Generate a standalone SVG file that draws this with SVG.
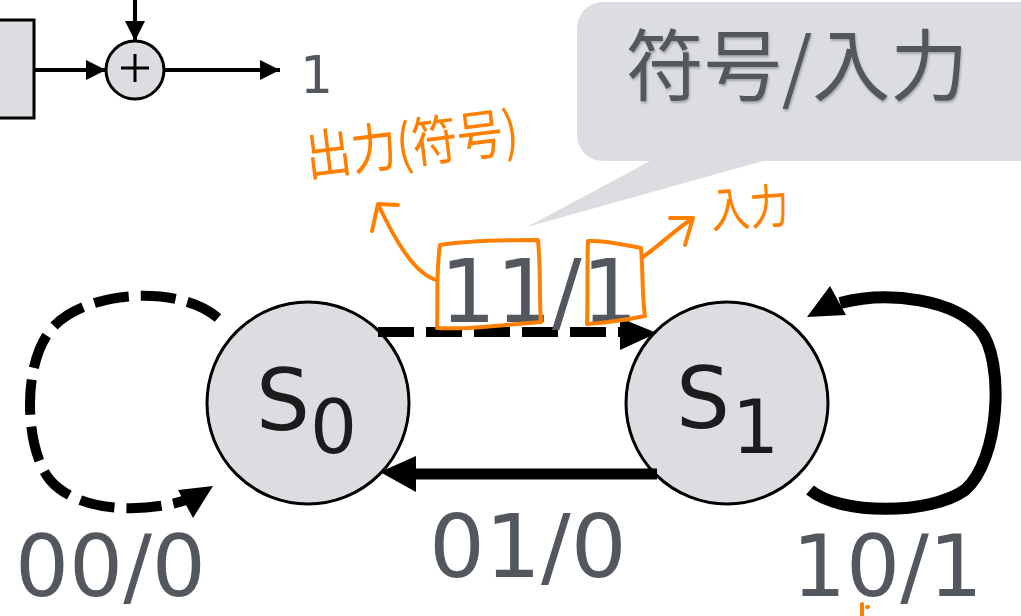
<svg xmlns="http://www.w3.org/2000/svg" width="1021" height="616" viewBox="0 0 1021 616">
  <style>
    .blk { fill: none; stroke: #000; }
    .shape { fill: #dcdde0; stroke: #000; stroke-width: 3; }
    .lbl { font-family: "DejaVu Sans", Verdana, sans-serif; fill: #53585f; }
    .state { font-family: "DejaVu Sans", Verdana, sans-serif; fill: #1c1c1e; }
    .ink { fill: none; stroke: #ff8000; stroke-width: 4; stroke-linecap: round; stroke-linejoin: round; }
    .hand { font-family: "Noto Sans CJK JP", "Noto Sans CJK SC", sans-serif; fill: #ff8000; }
  </style>
  <defs>
    <marker id="headSmall" markerUnits="userSpaceOnUse" markerWidth="22" markerHeight="20" refX="20" refY="10" orient="auto">
      <path d="M0,0 L20,10 L0,20 Z" fill="#000"/>
    </marker>
    <filter id="soft" x="-10%" y="-10%" width="120%" height="130%">
      <feDropShadow dx="1" dy="2" stdDeviation="1.2" flood-color="#000" flood-opacity="0.25"/>
    </filter>
  </defs>

  <!-- adder stage at top left -->
  <g id="register">
    <rect class="shape" x="-4" y="20" width="38" height="98"/>
  </g>
  <g id="adder">
    <circle class="shape" cx="135" cy="70" r="29"/>
    <path d="M121,68 H149 M135,54 V82" stroke="#000" stroke-width="3" fill="none"/>
  </g>
  <g id="out-label">
    <text class="lbl" x="300" y="93" font-size="52">1</text>
  </g>

  <!-- callout bubble -->
  <g id="callout">
    <path d="M603,2 H1040 V161 H763 L527,227 L650,161 H603 A26,26 0 0 1 577,135 V28 A26,26 0 0 1 603,2 Z" fill="#dcdde0"/>
    <text x="797" y="95" font-size="78" text-anchor="middle" filter="url(#soft)" font-family="'Noto Sans CJK JP', 'Noto Sans CJK SC', sans-serif" fill="#53585f">符号/入力</text>
  </g>

  <!-- states -->
  <g id="s0">
    <circle class="shape" cx="308" cy="403" r="101"/>
    <text class="state" x="256" y="430" font-size="85">S</text>
    <text class="state" x="310" y="453" font-size="74">0</text>
  </g>
  <g id="s1">
    <circle class="shape" cx="727" cy="403" r="101"/>
    <text class="state" x="676" y="428" font-size="85">S</text>
    <text class="state" x="732" y="453" font-size="74">1</text>
  </g>

  <!-- connectors -->
  <g id="connectors">
    <path class="blk" d="M34,70 H106" stroke-width="4" marker-end="url(#headSmall)"/>
    <path class="blk" d="M135,0 V41" stroke-width="4" marker-end="url(#headSmall)"/>
    <path class="blk" d="M164,70 H280" stroke-width="4" marker-end="url(#headSmall)"/>

    <path class="blk" d="M378,332 H624" stroke-width="10" stroke-dasharray="36 12"/>
    <path d="M620,318 L657,333 L620,350 Z" fill="#000"/>

    <path class="blk" d="M657,474 H412" stroke-width="11"/>
    <path d="M416,456 L380,472 L416,492 Z" fill="#000"/>

    <path class="blk" d="M218,318 C180,285 90,290 55,325 C20,360 25,450 50,480 C80,515 150,512 186,500" stroke-width="10" stroke-dasharray="35 12"/>
    <path d="M178,490 L213,486 L193,518 Z" fill="#000"/>

    <path class="blk" d="M810,490 C840,515 930,515 965,490 C1000,460 1005,360 980,330 C955,300 890,290 840,303" stroke-width="12"/>
    <path d="M830,286 L807,317 L846,315 Z" fill="#000"/>
  </g>

  <!-- edge labels -->
  <g id="labels">
    <text class="lbl" x="440" y="322" font-size="88">11/1</text>
    <text class="lbl" x="15" y="596" font-size="85">00/0</text>
    <text class="lbl" x="429" y="577" font-size="88">01/0</text>
    <text class="lbl" x="792" y="596" font-size="85">10/1</text>
  </g>

  <!-- handwritten annotations -->
  <g id="notes">
    <path class="ink" d="M440,245 C470,240 510,240 538,240 C541,270 539,300 541,322 C510,324 470,330 437,328 C438,300 436,270 440,245 Z"/>
    <path class="ink" d="M588,241 C605,240 625,245 641,248 C643,270 642,296 645,316 C625,320 605,323 587,324 C588,300 587,265 588,241 Z"/>
    <path class="ink" d="M437,280 C415,275 395,240 378,204 M372,231 L378,204 L398,205"/>
    <path class="ink" d="M643,257 C660,245 675,230 693,218 M670,218 L693,218 L685,245"/>
    <text class="hand" x="308" y="176" font-size="54" textLength="214" lengthAdjust="spacingAndGlyphs" transform="rotate(-7 308 176)">出力(符号)</text>
    <text class="hand" x="712" y="228" font-size="48" textLength="78" lengthAdjust="spacingAndGlyphs" transform="rotate(-4 712 228)">入力</text>
    <path class="ink" d="M862,604 V616 M867,607 h1" stroke-width="3"/>
  </g>
</svg>
